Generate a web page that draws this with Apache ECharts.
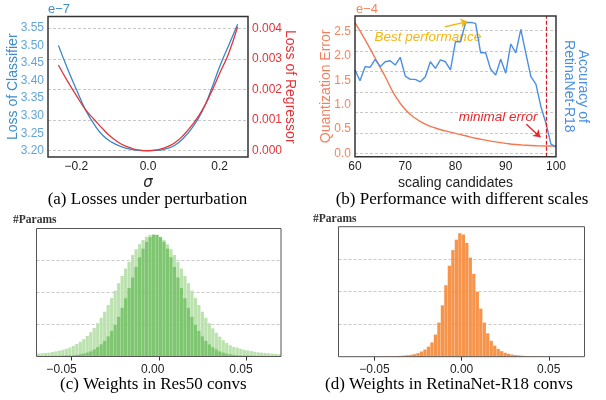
<!DOCTYPE html>
<html><head><meta charset="utf-8">
<script src="https://cdn.jsdelivr.net/npm/echarts@6/dist/echarts.min.js"></script>
<style>html,body{margin:0;padding:0;background:#fff}#c{width:606px;height:400px}</style>
</head><body><div id="c"></div>
<script>
// ---------- (a) Losses under perturbation ----------
const sigma = [-0.25,-0.225,-0.2,-0.175,-0.15,-0.125,-0.1,-0.075,-0.05,-0.025,0,0.025,0.05,0.075,0.1,0.125,0.15,0.175,0.2,0.225,0.25];
const lossClassifier = [3.500,3.435,3.375,3.318,3.275,3.243,3.224,3.212,3.205,3.201,3.200,3.201,3.206,3.216,3.237,3.268,3.310,3.370,3.440,3.500,3.560];
const lossRegressor = [0.00280,0.00228,0.00181,0.00135,0.00102,0.00070,0.00042,0.00022,0.00010,0.00002,0,0.00003,0.00011,0.00026,0.00052,0.00087,0.00130,0.00187,0.00253,0.00318,0.00405];
const classifierTicks = [3.20,3.25,3.30,3.35,3.40,3.45,3.50,3.55];
const regressorTicks = [0,0.001,0.002,0.003,0.004];
const sigmaTicks = [-0.2,0,0.2];

// ---------- (b) Performance with different scales ----------
const errScales = [60,62,64,66,68,70,72,74,76,78,80,82,84,86,88,90,92,94,96,98,100];
const quantError = [2.69,2.34,1.96,1.58,1.18,0.90,0.72,0.60,0.52,0.46,0.41,0.36,0.31,0.27,0.235,0.205,0.18,0.165,0.155,0.15,0.15];
const accScales = [60,61,62,63,64,65,66,67,68,69,70,71,72,73,74,75,76,77,78,79,80,81,82,83,84,85,86,87,88,89,90,91,92,93,94,95,96,97,98,99,100];
const accuracy = [4.08,3.55,4.24,4.21,4.60,4.24,4.48,4.53,4.32,4.70,
  3.78,3.62,3.62,3.50,3.75,4.48,4.16,4.57,4.48,4.08,
  5.46,5.46,6.39,6.41,6.36,4.92,4.92,4.11,3.83,4.60,
  3.92,5.35,4.92,6.07,4.89,3.75,3.39,2.28,1.47,0.45,0.30];
const errTicks = [0,0.5,1.0,1.5,2.0,2.5];
const minimalErrorScale = 98;

// ---------- (c)(d) weight histograms ----------
const binCenters = [-0.069,-0.067,-0.065,-0.063,-0.061,-0.059,-0.057,-0.055,-0.053,-0.051,
  -0.049,-0.047,-0.045,-0.043,-0.041,-0.039,-0.037,-0.035,-0.033,-0.031,
  -0.029,-0.027,-0.025,-0.023,-0.021,-0.019,-0.017,-0.015,-0.013,-0.011,
  -0.009,-0.007,-0.005,-0.003,-0.001,0.001,0.003,0.005,0.007,0.009,
  0.011,0.013,0.015,0.017,0.019,0.021,0.023,0.025,0.027,0.029,
  0.031,0.033,0.035,0.037,0.039,0.041,0.043,0.045,0.047,0.049,
  0.051,0.053,0.055,0.057,0.059,0.061,0.063,0.065,0.067,0.069];
const res50Wide = [0.09,0.10,0.11,0.12,0.14,0.16,0.18,0.21,0.24,0.28,
  0.33,0.39,0.46,0.54,0.64,0.76,0.89,1.04,1.21,1.40,
  1.61,1.83,2.06,2.29,2.52,2.75,2.96,3.17,3.35,3.51,
  3.64,3.74,3.80,3.82,3.80,3.74,3.64,3.51,3.35,3.17,
  2.96,2.75,2.52,2.29,2.06,1.83,1.61,1.40,1.21,1.04,
  0.88,0.74,0.62,0.51,0.42,0.35,0.30,0.28,0.24,0.21,
  0.19,0.17,0.15,0.13,0.12,0.11,0.10,0.09,0.08,0.07];
const res50Narrow = [0.01,0.01,0.01,0.01,0.02,0.02,0.02,0.03,0.03,0.03,
  0.04,0.05,0.07,0.09,0.12,0.16,0.22,0.29,0.38,0.49,
  0.63,0.80,0.99,1.24,1.52,1.82,2.14,2.47,2.80,3.10,
  3.37,3.58,3.73,3.80,3.80,3.73,3.58,3.37,3.10,2.80,
  2.47,2.14,1.82,1.52,1.24,0.99,0.80,0.63,0.49,0.38,
  0.29,0.22,0.16,0.12,0.09,0.07,0.05,0.04,0.03,0.03,
  0.03,0.03,0.02,0.02,0.02,0.02,0.01,0.01,0.01,0.01];
const retinaWeights = [0.001,0.001,0.002,0.002,0.002,0.003,0.003,0.004,0.004,0.005,
  0.006,0.007,0.008,0.010,0.012,0.015,0.020,0.026,0.035,0.045,
  0.06,0.08,0.11,0.16,0.22,0.31,0.44,0.68,1.05,1.58,
  2.20,2.80,3.28,3.60,3.80,3.76,3.50,3.05,2.55,2.00,
  1.48,1.05,0.72,0.49,0.34,0.24,0.17,0.12,0.09,0.065,
  0.05,0.04,0.03,0.022,0.016,0.012,0.010,0.008,0.007,0.006,
  0.005,0.004,0.004,0.003,0.003,0.002,0.002,0.002,0.001,0.001];
const weightTicks = [-0.05,0,0.05];

const SANS = '"Liberation Sans", Arial, sans-serif';
const SERIF = '"Liberation Serif", "Times New Roman", serif';
const pairs = (xs, ys) => xs.map((x, i) => [x, ys[i]]);
const uminus = s => s.replace('-', '\u2212');
const dashed = {show: true, showMinLine: false, showMaxLine: false, lineStyle: {color: '#c9c9c9', type: [3, 2], width: 1}};

const chart = echarts.init(document.getElementById('c'), null, {renderer: 'canvas', width: 606, height: 400});

const BLUE_A = '#3a86c8', RED_A = '#e0363c', ORANGE_B = '#f4774f', BLUE_B = '#4a8fe2';

const option = {
  animation: false,
  grid: [
    {left: 48, top: 16.5, width: 200, height: 140.5, show: true, borderColor: '#333', borderWidth: 1.5, z: 6},
    {left: 355, top: 16, width: 201, height: 140.7, show: true, borderColor: '#333', borderWidth: 1.5, z: 6},
    {left: 36.5, top: 228.5, width: 244.5, height: 128, show: true, borderColor: '#555', borderWidth: 1, z: 6},
    {left: 338.5, top: 226.7, width: 246, height: 130, show: true, borderColor: '#555', borderWidth: 1, z: 6}
  ],
  xAxis: [
    {gridIndex: 0, type: 'value', min: -0.279, max: 0.279, splitLine: {show: false},
     axisLine: {show: false}, axisTick: {show: false},
     axisLabel: {customValues: sigmaTicks, formatter: v => uminus(v.toFixed(1)), color: '#222', fontSize: 12, fontFamily: SANS, margin: 4},
     name: '\u03c3', nameLocation: 'middle', nameGap: 19, nameMoveOverlap: false,
     nameTextStyle: {fontStyle: 'italic', fontSize: 15, fontFamily: '"DejaVu Sans", sans-serif', color: '#222'}},
    {gridIndex: 1, type: 'value', min: 60, max: 100, interval: 10, splitLine: {show: false},
     axisLine: {show: false}, axisTick: {show: false},
     axisLabel: {color: '#222', fontSize: 12, fontFamily: SANS, margin: 4},
     name: 'scaling candidates', nameLocation: 'middle', nameGap: 19, nameMoveOverlap: false,
     nameTextStyle: {fontSize: 14, fontFamily: SANS, color: '#222'}},
    {gridIndex: 2, type: 'value', min: -0.0701, max: 0.0701, splitLine: {show: false},
     axisLine: {show: false},
     axisTick: {show: true, customValues: weightTicks, length: 4, lineStyle: {color: '#333'}},
     axisLabel: {customValues: weightTicks, color: '#222', fontSize: 12, fontFamily: SANS, margin: 7,
       formatter: v => v < 0 ? '{l|' + uminus(v.toFixed(2)) + '}' : (v === 0 ? '{m|0.00}' : '{r|' + v.toFixed(2) + '}'),
       rich: {l: {padding: [0, 20, 0, 0], fontSize: 12, fontFamily: SANS, color: '#222'},
              m: {padding: [0, 12, 0, 0], fontSize: 12, fontFamily: SANS, color: '#222'},
              r: {padding: [0, 10, 0, 0], fontSize: 12, fontFamily: SANS, color: '#222'}}}},
    {gridIndex: 3, type: 'value', min: -0.0706, max: 0.0705, splitLine: {show: false},
     axisLine: {show: false},
     axisTick: {show: true, customValues: weightTicks, length: 4, lineStyle: {color: '#333'}},
     axisLabel: {customValues: weightTicks, color: '#222', fontSize: 12, fontFamily: SANS, margin: 7,
       formatter: v => uminus(v.toFixed(2))}}
  ],
  yAxis: [
    {gridIndex: 0, type: 'value', position: 'left', min: 3.1824, max: 3.5822, splitNumber: 8,
     splitLine: {show: false}, axisLine: {show: false}, axisTick: {show: false},
     axisLabel: {customValues: classifierTicks, formatter: v => v.toFixed(2), color: '#62a5d9', fontSize: 12, fontFamily: SANS, margin: 4},
     name: 'Loss of Classifier', nameLocation: 'middle', nameGap: 28, nameMoveOverlap: false,
     nameTextStyle: {color: '#3c8dcb', fontSize: 14, fontFamily: SANS}},
    {gridIndex: 0, type: 'value', position: 'right', min: -0.000206, max: 0.004386, splitNumber: 5,
     splitLine: dashed, axisLine: {show: false}, axisTick: {show: false},
     axisLabel: {customValues: regressorTicks, formatter: v => v.toFixed(3), color: '#e4333a', fontSize: 12, fontFamily: SANS, margin: 4},
     name: 'Loss of Regressor', nameLocation: 'middle', nameGap: 35, nameRotate: -90, nameMoveOverlap: false,
     nameTextStyle: {color: '#e4333a', fontSize: 14, fontFamily: SANS}},
    {gridIndex: 1, type: 'value', position: 'left', min: -0.07, max: 2.825, splitNumber: 6,
     splitLine: {show: false}, axisLine: {show: false}, axisTick: {show: false},
     axisLabel: {customValues: errTicks, formatter: v => v.toFixed(1), color: '#f4845f', fontSize: 12, fontFamily: SANS, margin: 4},
     name: 'Quantization Error', nameLocation: 'middle', nameGap: 22, nameMoveOverlap: false,
     nameTextStyle: {color: '#f28060', fontSize: 14, fontFamily: SANS}},
    {gridIndex: 1, type: 'value', position: 'right', min: -0.166, max: 6.72, splitNumber: 7,
     splitLine: dashed, axisLine: {show: false}, axisTick: {show: false}, axisLabel: {show: false},
     name: 'Accuracy of\nRetinaNet-R18', nameLocation: 'middle', nameGap: 6, nameRotate: -90, nameMoveOverlap: false,
     nameTextStyle: {color: BLUE_B, fontSize: 14, fontFamily: SANS, lineHeight: 14}},
    {gridIndex: 2, type: 'value', min: 0, max: 4, interval: 1, splitLine: dashed,
     axisLine: {show: false}, axisTick: {show: false}, axisLabel: {show: false}},
    {gridIndex: 3, type: 'value', min: 0, max: 4, interval: 1, splitLine: dashed,
     axisLine: {show: false}, axisTick: {show: false}, axisLabel: {show: false}}
  ],
  series: [
    {type: 'line', xAxisIndex: 0, yAxisIndex: 0, data: pairs(sigma, lossClassifier), smooth: true,
     showSymbol: false, lineStyle: {color: BLUE_A, width: 1.3}, itemStyle: {color: BLUE_A}, z: 3},
    {type: 'line', xAxisIndex: 0, yAxisIndex: 1, data: pairs(sigma, lossRegressor), smooth: true,
     showSymbol: false, lineStyle: {color: RED_A, width: 1.3}, itemStyle: {color: RED_A}, z: 3},
    {type: 'line', xAxisIndex: 1, yAxisIndex: 2, data: pairs(errScales, quantError), smooth: true,
     showSymbol: false, lineStyle: {color: ORANGE_B, width: 1.4}, itemStyle: {color: ORANGE_B}, z: 3,
     markLine: {silent: true, symbol: ['none', 'none'], label: {show: false}, animation: false,
       data: [
         {xAxis: minimalErrorScale, lineStyle: {color: '#d9141b', type: [4, 2], width: 1.2}},
         [{coord: [77.9, 2.605], symbol: 'none', lineStyle: {color: '#f6b60e', width: 1.4, type: 'solid'}},
          {coord: [82.4, 2.71], symbol: 'arrow', symbolSize: 7, lineStyle: {color: '#f6b60e', width: 1.4, type: 'solid'}}],
         [{coord: [94.1, 0.60], symbol: 'none', lineStyle: {color: '#e8262b', width: 1.4, type: 'solid'}},
          {coord: [96.9, 0.33], symbol: 'arrow', symbolSize: 7, lineStyle: {color: '#e8262b', width: 1.4, type: 'solid'}}]
       ]}},
    {type: 'line', xAxisIndex: 1, yAxisIndex: 3, data: pairs(accScales, accuracy),
     showSymbol: false, lineStyle: {color: BLUE_B, width: 1.4}, itemStyle: {color: BLUE_B}, z: 4},
    {type: 'bar', xAxisIndex: 2, yAxisIndex: 4, data: pairs(binCenters, res50Wide), barWidth: 3.2,
     itemStyle: {color: '#b7e0ab', opacity: 0.95}},
    {type: 'bar', xAxisIndex: 2, yAxisIndex: 4, data: pairs(binCenters, res50Narrow), barWidth: 3.2, barGap: '-100%',
     itemStyle: {color: '#6fbf62', opacity: 0.8}},
    {type: 'bar', xAxisIndex: 3, yAxisIndex: 5, data: pairs(binCenters, retinaWeights), barWidth: 3.3,
     itemStyle: {color: '#f68b3c', opacity: 0.92}}
  ]
};
chart.setOption(option);

const pBest = chart.convertToPixel({xAxisIndex: 1, yAxisIndex: 2}, [74.5, 2.39]);
const pMin = chart.convertToPixel({xAxisIndex: 1, yAxisIndex: 2}, [88.5, 0.74]);
const txt = (id, x, y, text, style) => ({type: 'text', id, x, y, silent: true,
  style: Object.assign({text, align: 'center', verticalAlign: 'middle', fill: '#000', font: '17px ' + SERIF}, style)});
chart.setOption({graphic: {elements: [
  txt('bp', pBest[0], pBest[1], 'Best performance', {fill: '#f6b60e', font: 'italic 13.5px ' + SANS}),
  txt('me', pMin[0], pMin[1], 'minimal error', {fill: '#e8262b', font: 'italic 13.5px ' + SANS}),
  txt('e7', 48, 9.5, 'e\u22127', {align: 'left', fill: '#3c8dcb', font: '13px ' + SANS}),
  txt('e4', 356, 9.5, 'e\u22124', {align: 'left', fill: '#f4845f', font: '13px ' + SANS}),
  txt('pc', 13, 220, '#Params', {align: 'left', font: 'bold 11.5px ' + SERIF, fill: '#333'}),
  txt('pd', 313, 219, '#Params', {align: 'left', font: 'bold 11.5px ' + SERIF, fill: '#333'}),
  txt('ca', 147.5, 200, '(a) Losses under perturbation'),
  txt('cb', 462, 200, '(b) Performance with different scales'),
  txt('cc', 153.3, 384.5, '(c) Weights in Res50 convs'),
  txt('cd', 449, 384.5, '(d) Weights in RetinaNet-R18 convs')
]}});
</script>
</body></html>
